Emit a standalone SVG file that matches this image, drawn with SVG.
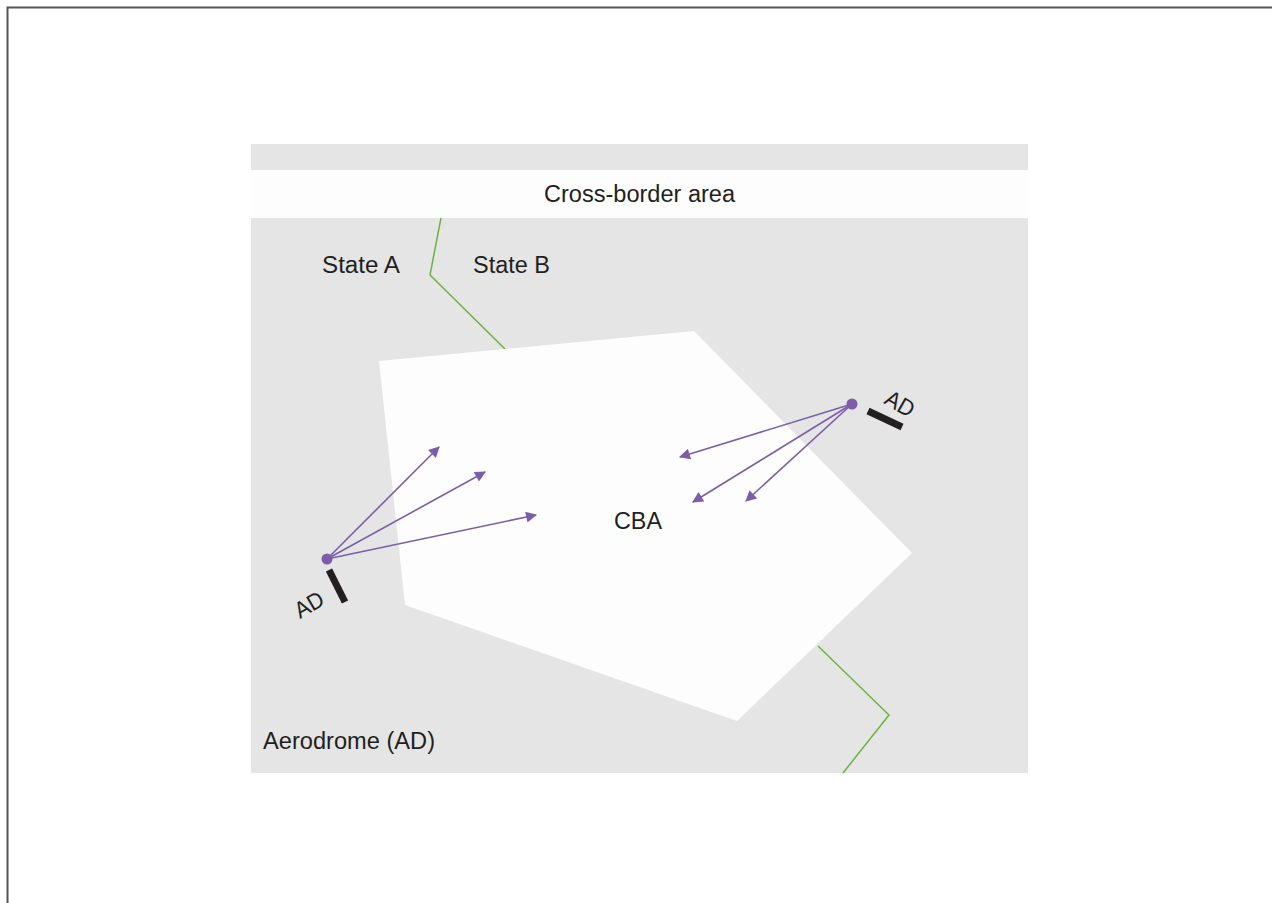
<svg xmlns="http://www.w3.org/2000/svg" width="1272" height="903" viewBox="0 0 1272 903">
<style>
.t{font-family:"Liberation Sans",Arial,sans-serif;font-size:23px;fill:#231f20}
.g{fill:none;stroke:#6db33f;stroke-width:1.5}
.a{stroke:#7b5ea7;stroke-width:1.6;fill:none;marker-end:url(#ah)}
.bar{stroke:#231f20;stroke-width:7}
</style>
<defs>
<marker id="ah" viewBox="0 0 10 10" refX="9" refY="5" markerWidth="12" markerHeight="11" markerUnits="userSpaceOnUse" orient="auto">
<path d="M0,0 L10,5 L0,10 z" fill="#7b5ea7"/>
</marker>
</defs>
<rect width="1272" height="903" fill="#fff"/>
<path d="M7.5,903 V7.5 H1272" fill="none" stroke="#555" stroke-width="2"/>
<g id="area">
<rect x="251" y="144" width="777" height="629" fill="#e5e5e5"/>
<rect x="251" y="170" width="777" height="48" fill="#fdfdfd"/>
<text class="t" x="639.5" y="202" text-anchor="middle" textLength="191" lengthAdjust="spacingAndGlyphs">Cross-border area</text>
</g>
<g id="border">
<polyline class="g" points="441,218 430,275 505,349"/>
<polyline class="g" points="818,646 889,715 843,773"/>
</g>
<g id="cba">
<polygon points="379,361 694,331 912,553 737,721 405,605" fill="#fdfdfd"/>
<text class="t" x="638" y="529" text-anchor="middle" textLength="48" lengthAdjust="spacingAndGlyphs">CBA</text>
</g>
<g id="labels">
<text class="t" x="322" y="273" textLength="78" lengthAdjust="spacingAndGlyphs">State A</text>
<text class="t" x="473" y="273" textLength="77" lengthAdjust="spacingAndGlyphs">State B</text>
<text class="t" x="263" y="749" textLength="172" lengthAdjust="spacingAndGlyphs">Aerodrome (AD)</text>
</g>
<g id="ad-left">
<line class="bar" x1="329" y1="570" x2="345" y2="602"/>
<circle cx="327" cy="559" r="5.5" fill="#7b5ea7"/>
<text class="t" transform="translate(300,619) rotate(-30)" textLength="30" lengthAdjust="spacingAndGlyphs">AD</text>
</g>
<g id="ad-right">
<line class="bar" x1="868" y1="411" x2="902" y2="427"/>
<circle cx="852" cy="404" r="5.5" fill="#7b5ea7"/>
<text class="t" transform="translate(883,403) rotate(30)" textLength="30" lengthAdjust="spacingAndGlyphs">AD</text>
</g>
<g id="connectors">
<line class="a" x1="327" y1="559" x2="439" y2="447"/>
<line class="a" x1="327" y1="559" x2="485" y2="472"/>
<line class="a" x1="327" y1="559" x2="536" y2="515"/>
<line class="a" x1="852" y1="404" x2="680" y2="457"/>
<line class="a" x1="852" y1="404" x2="693" y2="502"/>
<line class="a" x1="852" y1="404" x2="746" y2="501"/>
</g>
</svg>
